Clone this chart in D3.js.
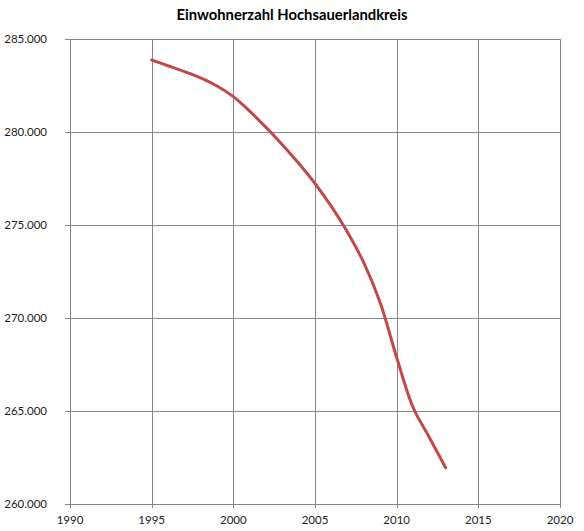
<!DOCTYPE html>
<html><head><meta charset="utf-8">
<script src="https://cdn.jsdelivr.net/npm/d3@7"></script>
<style>body{margin:0;background:#fff;}svg{display:block;}</style>
</head><body>
<svg id="c" width="584" height="531"></svg>
<script>
const years = [1995,1996,1997,1998,1999,2000,2001,2002,2003,2004,2005,2006,2007,2008,2009,2010,2011,2012,2013];
const population = [283870,283560,283250,282910,282470,281900,281120,280250,279320,278320,277230,276000,274600,272950,270800,267880,265200,263580,261950];
const xTicks = [1990,1995,2000,2005,2010,2015,2020];
const yTicks = [260000,265000,270000,275000,280000,285000];
const title = "Einwohnerzahl Hochsauerlandkreis";

const svg = d3.select("#c");
const x = d3.scaleLinear().domain([1990,2020]).range([70,560]);
const y = d3.scaleLinear().domain([260000,285000]).range([504,39]);
const fmt = v => d3.format(",")(v).replace(/,/g,".");
const grid = "#868686";
const font = "Lato, 'Open Sans', sans-serif";

svg.append("text").attr("x",292).attr("y",20).attr("text-anchor","middle")
  .attr("font-family",font).attr("font-weight","bold").attr("font-size",14.8)
  .attr("fill","#000").text(title);

// horizontal grid
svg.append("g").selectAll("line").data(yTicks).join("line")
  .attr("x1",65).attr("x2",560).attr("y1",d=>y(d)+0.5).attr("y2",d=>y(d)+0.5)
  .attr("stroke",grid).attr("stroke-width",1);
// vertical grid
svg.append("g").selectAll("line").data(xTicks).join("line")
  .attr("y1",39).attr("y2",508).attr("x1",d=>Math.round(x(d))+0.5).attr("x2",d=>Math.round(x(d))+0.5)
  .attr("stroke",grid).attr("stroke-width",1);

svg.append("g").selectAll("text").data(yTicks).join("text")
  .attr("x",47).attr("y",d=>y(d)+4).attr("text-anchor","end")
  .attr("font-family",font).attr("font-size",11.5).attr("fill","#222").text(fmt);
svg.append("g").selectAll("text").data(xTicks).join("text")
  .attr("x",d=>x(d)).attr("y",524).attr("text-anchor","middle")
  .attr("font-family",font).attr("font-size",11.5).attr("fill","#222").text(d=>d);

const line = d3.line().x((d,i)=>x(years[i])).y(d=>y(d)).curve(d3.curveCatmullRom.alpha(0.5));
svg.append("path").datum(population).attr("d",line).attr("fill","none")
  .attr("stroke","#BE4B48").attr("stroke-width",3).attr("stroke-linecap","round").attr("stroke-linejoin","round");
</script>
</body></html>
